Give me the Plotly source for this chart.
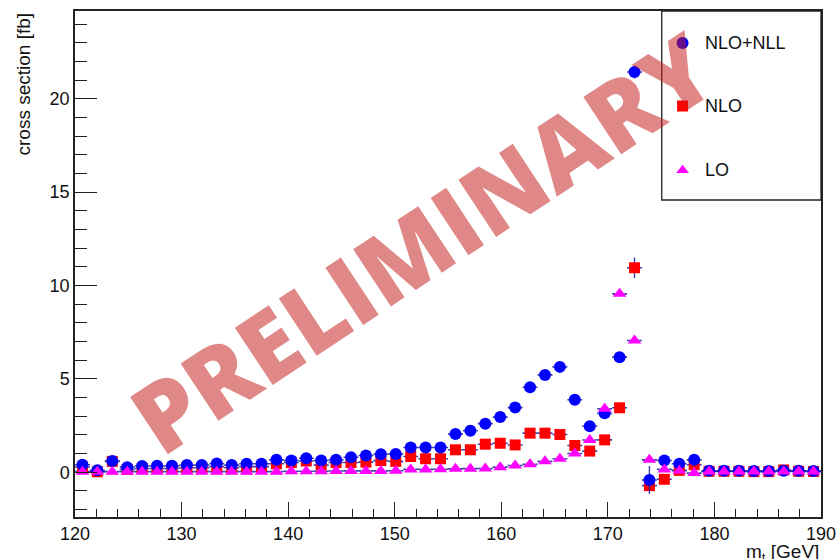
import plotly.graph_objects as go

# Top-quark mass bins (GeV), bin width 1.4 GeV
mass = [120.7, 122.1, 123.5, 124.9, 126.3, 127.7, 129.1, 130.5, 131.9, 133.3,
        134.7, 136.1, 137.5, 138.9, 140.3, 141.7, 143.1, 144.5, 145.9, 147.3,
        148.7, 150.1, 151.5, 152.9, 154.3, 155.7, 157.1, 158.5, 159.9, 161.3,
        162.7, 164.1, 165.5, 166.9, 168.3, 169.7, 171.1, 172.5, 173.9, 175.3,
        176.7, 178.1, 179.5, 180.9, 182.3, 183.7, 185.1, 186.5, 187.9, 189.3]
bin_half = 0.7

# Cross sections [fb]
nlo_nll = [0.40, 0.10, 0.60, 0.27, 0.33, 0.34, 0.34, 0.38, 0.38, 0.46,
           0.38, 0.45, 0.45, 0.66, 0.63, 0.75, 0.63, 0.66, 0.80, 0.89,
           0.96, 0.98, 1.32, 1.32, 1.32, 2.04, 2.22, 2.60, 2.95, 3.46,
           4.55, 5.21, 5.64, 3.88, 2.46, 3.15, 6.16, 21.43, -0.42, 0.63,
           0.45, 0.66, 0.08, 0.08, 0.08, 0.06, 0.06, 0.08, 0.08, 0.06]
nlo = [0.28, 0.02, 0.58, 0.15, 0.20, 0.20, 0.20, 0.24, 0.24, 0.30,
       0.24, 0.30, 0.30, 0.45, 0.52, 0.60, 0.38, 0.52, 0.52, 0.54,
       0.62, 0.58, 0.84, 0.72, 0.72, 1.20, 1.20, 1.50, 1.55, 1.46,
       2.09, 2.09, 2.02, 1.43, 1.13, 1.73, 3.45, 10.95, -0.72, -0.38,
       0.10, 0.40, 0.05, 0.05, 0.05, 0.03, 0.03, 0.12, 0.05, 0.04]
lo = [0.03, 0.03, 0.03, 0.03, 0.03, 0.03, 0.03, 0.03, 0.03, 0.03,
      0.03, 0.03, 0.03, 0.03, 0.05, 0.05, 0.05, 0.06, 0.07, 0.07,
      0.07, 0.08, 0.15, 0.15, 0.16, 0.18, 0.19, 0.20, 0.27, 0.36,
      0.42, 0.58, 0.72, 1.00, 1.72, 3.40, 9.55, 7.05, 0.66, 0.15,
      0.08, -0.05, 0.04, 0.04, 0.04, 0.04, 0.04, 0.04, 0.04, 0.04]

# Statistical uncertainties (only visible where non-negligible)
nlo_nll_err = [0.0] * 37 + [0.35, 0.75] + [0.0] * 11
nlo_err = [0.0] * 37 + [0.55] + [0.0] * 12
lo_err = [0.0] * 50

series = [
    ("NLO", nlo, nlo_err, "#ff0000", "square", 11),
    ("NLO+NLL", nlo_nll, nlo_nll_err, "#0000ff", "circle", 12),
    ("LO", lo, lo_err, "#ff00ff", "triangle-up", 12),
]

FONT = "Liberation Sans, Arial, Helvetica, sans-serif"
BAR = "rgba(30,30,160,0.85)"

fig = go.Figure()

# Horizontal bin-width bars drawn as dashed segments
for name, vals, errs, col, sym, size in series:
    xs, ys = [], []
    for m, v in zip(mass, vals):
        xs += [m - bin_half, m + bin_half, None]
        ys += [v, v, None]
    fig.add_trace(go.Scatter(x=xs, y=ys, mode="lines", showlegend=False,
                             hoverinfo="skip",
                             line=dict(color=BAR, width=1.6, dash="3px,3px")))

# Markers with vertical error bars
for name, vals, errs, col, sym, size in series:
    fig.add_trace(go.Scatter(
        x=mass, y=vals, mode="markers", name=name, showlegend=False,
        marker=dict(symbol=sym, size=size, color=col, line=dict(width=0)),
        error_y=dict(type="data", array=errs, visible=True, color=BAR,
                     thickness=1.4, width=0),
    ))

# Legend box contents on an auxiliary hidden axis pair
legend_rows = [("NLO+NLL", "#0000ff", "circle", 12, 0.831),
               ("NLO", "#ff0000", "square", 11, 0.497),
               ("LO", "#ff00ff", "triangle-up", 11, 0.158)]
for label, col, sym, size, yy in legend_rows:
    fig.add_trace(go.Scatter(x=[0.131], y=[yy], mode="markers", xaxis="x2",
                             yaxis="y2", showlegend=False, hoverinfo="skip",
                             marker=dict(symbol=sym, size=size, color=col)))
    fig.add_annotation(x=0.258, y=yy, xref="x2", yref="y2", text=label,
                       showarrow=False, xanchor="left", yanchor="middle",
                       font=dict(family=FONT, size=18, color="#111"))

axis_common = dict(showgrid=False, zeroline=False, showline=True,
                   linecolor="#222", linewidth=1.5, mirror=True,
                   ticks="inside", tickcolor="#222", tickwidth=1.3,
                   automargin=False,
                   tickfont=dict(family=FONT, size=18, color="#111"))

fig.update_layout(
    width=838, height=559,
    margin=dict(l=75, r=17, t=11, b=42),
    paper_bgcolor="white", plot_bgcolor="white",
    showlegend=False,
    xaxis=dict(range=[120, 190], tick0=120, dtick=10, ticklen=15,
               minor=dict(dtick=2, ticklen=8, ticks="inside",
                          tickcolor="#222", tickwidth=1.2, showgrid=False),
               **axis_common),
    yaxis=dict(range=[-2.4, 24.7], tick0=0, dtick=5, ticklen=22,
               minor=dict(dtick=1, ticklen=12, ticks="inside",
                          tickcolor="#222", tickwidth=1.2, showgrid=False),
               **axis_common),
    xaxis2=dict(domain=[0.7865, 1.0], anchor="y2", range=[0, 1],
                visible=False, fixedrange=True),
    yaxis2=dict(domain=[0.6265, 1.0], anchor="x2", range=[0, 1],
                visible=False, fixedrange=True),
)

# Legend frame
fig.add_shape(type="rect", xref="paper", yref="paper",
              x0=0.7865, x1=1.0, y0=0.6265, y1=1.0,
              line=dict(color="#222", width=1.3), layer="above")

# Axis titles
fig.add_annotation(text="cross section [fb]", xref="paper", yref="paper",
                   x=-0.0697, y=1.0, xanchor="center", yanchor="top",
                   textangle=-90, showarrow=False,
                   font=dict(family=FONT, size=19, color="#111"))
fig.add_annotation(text="m<sub>t</sub> [GeV]", xref="paper", yref="paper",
                   x=1.0, y=0.0, xanchor="right", yanchor="top", yshift=-22,
                   showarrow=False,
                   font=dict(family=FONT, size=19, color="#111"))

# Watermark
fig.add_annotation(text="PRELIMINARY", xref="paper", yref="paper",
                   x=0.464, y=0.545, xanchor="center", yanchor="middle",
                   textangle=-33.5, showarrow=False,
                   font=dict(family="Open Sans, sans-serif", size=96,
                             weight=800, color="rgba(195,25,25,0.52)"))

fig.write_html("out.html")
